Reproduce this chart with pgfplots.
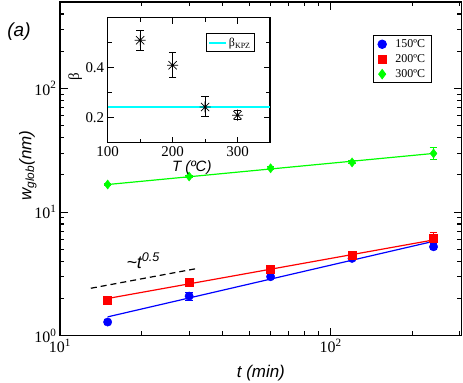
\documentclass[border=0pt]{standalone}
\usepackage{fontspec}
\setmainfont{Liberation Serif}
\newfontfamily\arial{Liberation Sans}
\usepackage{pgfplots}
\pgfplotsset{compat=1.18}
\definecolor{gblue}{RGB}{0,0,255}
\definecolor{gred}{RGB}{255,0,0}
\definecolor{ggreen}{RGB}{0,255,0}
\definecolor{gcyan}{RGB}{0,255,255}

% eight-armed star, as in the inset
\pgfdeclareplotmark{star8}{%
  \pgfpathmoveto{\pgfqpoint{-\pgfplotmarksize}{0pt}}%
  \pgfpathlineto{\pgfqpoint{\pgfplotmarksize}{0pt}}%
  \pgfpathmoveto{\pgfqpoint{0pt}{-\pgfplotmarksize}}%
  \pgfpathlineto{\pgfqpoint{0pt}{\pgfplotmarksize}}%
  \pgfpathmoveto{\pgfqpoint{-0.75\pgfplotmarksize}{-0.75\pgfplotmarksize}}%
  \pgfpathlineto{\pgfqpoint{0.75\pgfplotmarksize}{0.75\pgfplotmarksize}}%
  \pgfpathmoveto{\pgfqpoint{-0.75\pgfplotmarksize}{0.75\pgfplotmarksize}}%
  \pgfpathlineto{\pgfqpoint{0.75\pgfplotmarksize}{-0.75\pgfplotmarksize}}%
  \pgfusepathqstroke}

% growth data: t (min), w_glob (nm), error
\pgfplotstableread{
t w e
15 1.29 0.06
30 2.09 0.15
60 3.00 0.10
120 4.22 0.12
240 5.24 0.30
}\tblue
\pgfplotstableread{
t w e
15 1.93 0.06
30 2.73 0.10
60 3.46 0.10
120 4.49 0.15
240 6.13 0.65
}\tred
\pgfplotstableread{
t w e
15 16.7 0.4
30 19.4 0.5
60 22.6 0.6
120 25.2 0.7
240 29.8 3.2
}\tgreen
% growth exponent vs temperature
\pgfplotstableread{
T b e
150 0.51 0.040
200 0.41 0.050
250 0.243 0.040
300 0.21 0.018
}\tbeta

\pgfplotsset{
  errs/.style={error bars/.cd, y dir=both, y explicit,
    error bar style={line width=1bp},
    error mark options={rotate=90, mark size=3.8bp, line width=1bp}},
}

\begin{document}
\begin{tikzpicture}
\useasboundingbox (-60bp,-47.3bp) rectangle (403bp,335.7bp);
\begin{axis}[at={(0bp,0bp)}, anchor=south west, scale only axis,
  width=401.7bp, height=333.7bp,
  xmode=log, ymode=log, xmin=10, xmax=305, ymin=1, ymax=500,
  xtick={10,100}, xticklabels={10\textsuperscript{1},10\textsuperscript{2}},
  minor xtick={20,30,40,50,60,70,80,90,200,300},
  ytick={1,10,100}, yticklabels={10\textsuperscript{0},10\textsuperscript{1},10\textsuperscript{2}},
  minor ytick={2,3,4,5,6,7,8,9,20,30,40,50,60,70,80,90,200,300,400},
  tick pos=both,
  major tick length=8bp, minor tick length=4.5bp,
  every tick/.style={black, line width=1.1bp},
  axis line style={line width=1.5bp},
  tick label style={font=\fontsize{16}{16}\selectfont},
  xlabel={\arial\itshape t (min)},
  ylabel={\arial\itshape w\textsubscript{glob}(nm)},
  xlabel style={font=\fontsize{17}{17}\selectfont, at={(axis description cs:0.5,-0.112)}, anchor=center},
  ylabel style={font=\fontsize{17}{17}\selectfont, at={(axis description cs:-0.08,0.51)}, anchor=center},
  legend style={at={(axis description cs:0.926,0.901)}, anchor=north east, draw=black, line width=1bp,
    font=\fontsize{12}{12}\selectfont, row sep=1.5bp, inner xsep=4.5bp, inner ysep=2bp},
  legend cell align=left,
]
\addplot[gblue, line width=1.2bp, forget plot] coordinates {(15,1.42) (240,5.8)};
\addplot[gred, line width=1.2bp, forget plot] coordinates {(15,2.0) (240,5.95)};
\addplot[ggreen, line width=1.2bp, forget plot] coordinates {(15,16.7) (240,29.8)};
\addplot[black, line width=1.2bp, dash pattern=on 6bp off 4bp, forget plot] coordinates {(13.0,2.42) (32.4,3.51)};
\addplot[gblue, only marks, mark=*, mark size=4.2bp, errs] table[x=t, y=w, y error=e] {\tblue};
\addlegendentry{\hspace{7bp}150ºC}
\addplot[gred, only marks, mark=square*, mark size=4bp, errs] table[x=t, y=w, y error=e] {\tred};
\addlegendentry{\hspace{7bp}200ºC}
\addplot[ggreen, only marks, mark=diamond*, mark size=4.6bp, errs] table[x=t, y=w, y error=e] {\tgreen};
\addlegendentry{\hspace{7bp}300ºC}
\node[font=\arial\itshape\fontsize{18}{18}\selectfont] at (axis cs:20.3,4.05) {\textasciitilde t\textsuperscript{0.5}};
\end{axis}
\node[font=\arial\itshape\fontsize{19}{19}\selectfont] at (-41bp,304bp) {(a)};
\begin{axis}[at={(47.7bp,193bp)}, anchor=south west, scale only axis,
  width=162.3bp, height=125bp,
  xmin=100, xmax=350, ymin=0.1, ymax=0.6,
  xtick={100,200,300}, minor xtick={150,250},
  ytick={0.2,0.4}, minor ytick={0.3,0.5},
  tick pos=both,
  major tick length=6bp, minor tick length=4bp,
  every tick/.style={black, line width=1.1bp},
  axis line style={line width=1.5bp},
  axis background/.style={fill=white},
  /pgf/number format/assume math mode=true,
  yticklabel style={/pgf/number format/.cd, fixed, precision=1, fixed zerofill},
  tick label style={font=\fontsize{15}{15}\selectfont},
  xlabel={\arial\itshape T (ºC)},
  ylabel={β},
  xlabel style={font=\fontsize{15}{15}\selectfont, at={(axis description cs:0.518,-0.2)}, anchor=center},
  ylabel style={font=\fontsize{15}{15}\selectfont, at={(axis description cs:-0.2,0.528)}, anchor=center},
  legend style={at={(axis description cs:0.908,0.875)}, anchor=north east, draw=black, line width=1bp,
    font=\fontsize{12}{12}\selectfont, inner sep=2bp},
]
\addplot[black, only marks, mark=star8, mark size=5.5bp, mark options={line width=0.7bp}, forget plot, errs] table[x=T, y=b, y error=e] {\tbeta};
\addplot[gcyan, line width=1.5bp] coordinates {(100,0.242) (350,0.242)};
\addlegendentry{β\textsubscript{KPZ}}
\end{axis}
\end{tikzpicture}
\end{document}
